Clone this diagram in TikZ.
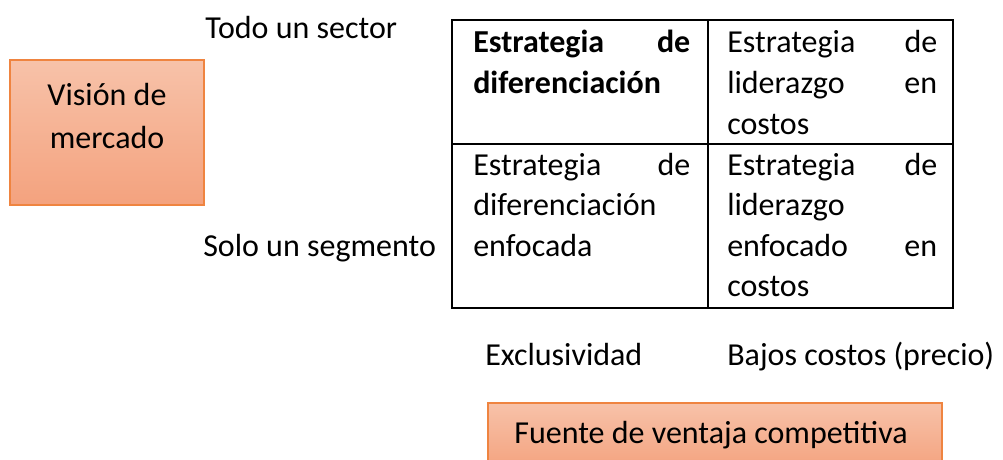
\documentclass[tikz,border=0pt]{standalone}
\usepackage{fontspec}
\setmainfont{Carlito}
\definecolor{boxtop}{HTML}{F7C2A9}
\definecolor{boxbottom}{HTML}{F4A27E}
\definecolor{boxline}{HTML}{EF8440}
\begin{document}
\begin{tikzpicture}[
    x=0.75pt, y=-0.75pt,
    every node/.style={font=\fontsize{24}{30.4}\selectfont, inner sep=0pt},
    label/.style={anchor=base west},
    cell/.style={anchor=base west, align=left},
    orangebox/.style={draw=boxline, line width=1.2pt, top color=boxtop, bottom color=boxbottom},
    grid/.style={draw, line width=1.5pt},
]
\useasboundingbox (0,0) rectangle (1003,460);

% Boxes
\path[orangebox] (10,60) rectangle (204,205);
\path[orangebox] (488,403) rectangle (942,470);
\node (vision) at (107,105) [anchor=base] {Visión de};
\node (mercado) at (107,148) [anchor=base] {mercado};
\node (fuente) at (711,443) [anchor=base] {Fuente de ventaja competitiva};

% Matrix
\draw[grid] (452,20) rectangle (953,308);
\draw[grid] (708,20) -- (708,308);
\draw[grid] (452,144) -- (953,144);

% Cells
\node[cell, text width=217*0.75pt] (c11) at (473,53)
    {\textbf{Estrategia\hfill de}\\\textbf{diferenciación}};
\node[cell, text width=210*0.75pt] (c12) at (727,53)
    {Estrategia\hfill de\\liderazgo\hfill en\\costos};
\node[cell, text width=217*0.75pt] (c21) at (473,175)
    {Estrategia\hfill de\\diferenciación\\enfocada};
\node[cell, text width=210*0.75pt] (c22) at (727,175)
    {Estrategia\hfill de\\liderazgo\\enfocado\hfill en\\costos};

% Labels
\node[label] (sector) at (205,39) {Todo un sector};
\node[label] (segmento) at (203,256) {Solo un segmento};
\node[label] (exclusividad) at (485,365) {Exclusividad};
\node[label] (bajos) at (727,365) {Bajos costos (precio)};

\end{tikzpicture}
\end{document}
